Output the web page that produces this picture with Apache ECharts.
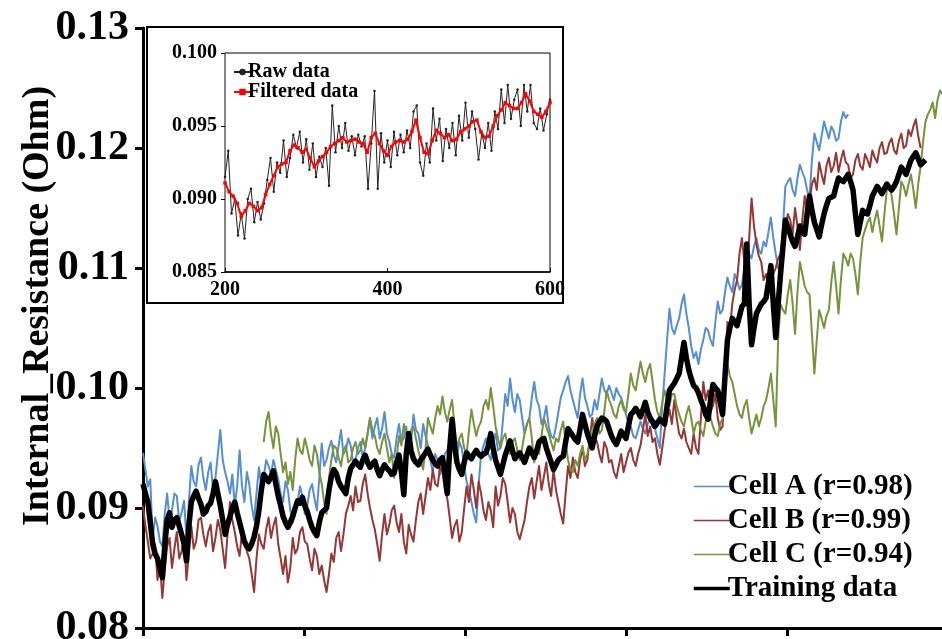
<!DOCTYPE html>
<html><head><meta charset="utf-8">
<script src="https://cdn.jsdelivr.net/npm/echarts@6/dist/echarts.min.js"></script>
<style>html,body{margin:0;padding:0;background:#fff}#c{width:942px;height:639px}</style>
</head><body><div id="c"></div>
<script>
// ---------- main chart data (x = start + i*step) ----------
const mainStep = 3;
const startA = 0, startB = 0, startC = 150, startT = 0;
const yTickLabels = ["0.08","0.09","0.10","0.11","0.12","0.13"];
const insetYTickLabels = ["0.085","0.090","0.095","0.100"];
const xTicks = [0,200,400,600,800,1000];

const cellA = [
.0946,.0932,.0918,.0924,.0875,.0892,.0885,.0872,.0868,.0895,
.0912,.0890,.0898,.0912,.0910,.0889,.0896,.0906,.0875,.0905,
.0935,.0922,.0918,.0936,.0942,.0925,.0915,.0930,.0938,.0915,
.0925,.0945,.0965,.0940,.0930,.0922,.0912,.0928,.0902,.0918,
.0948,.0918,.0905,.0930,.0920,.0902,.0890,.0912,.0934,.0918,
.0926,.0940,.0935,.0928,.0940,.0932,.0924,.0912,.0905,.0922,
.0915,.0898,.0888,.0896,.0905,.0918,.0910,.0895,.0902,.0915,
.0920,.0908,.0898,.0925,.0954,.0935,.0940,.0950,.0956,.0944,
.0938,.0952,.0965,.0945,.0948,.0958,.0952,.0938,.0940,.0950,
.0955,.0942,.0950,.0962,.0975,.0958,.0968,.0975,.0958,.0966,
.0980,.0962,.0955,.0945,.0942,.0958,.0970,.0955,.0958,.0968,
.0946,.0955,.0978,.0965,.0962,.0950,.0970,.0960,.0952,.0940,
.0930,.0945,.0940,.0928,.0935,.0945,.0948,.0938,.0960,.0950,
.0942,.0955,.0950,.0935,.0922,.0915,.0905,.0895,.0888,.0920,
.0945,.0952,.0958,.0945,.0940,.0955,.0962,.0948,.0950,.0972,
.0995,.0985,.1008,.0990,.0980,.0995,.0990,.0975,.0962,.0970,
.0975,.0992,.1005,.0990,.0985,.0970,.0975,.0985,.0968,.0960,
.0958,.0968,.0980,.0992,.0998,.1005,.1010,.0998,.0990,.0982,
.0975,.0995,.1008,.0992,.0985,.0976,.0978,.0990,.0982,.0995,
.1008,.0998,.0995,.1002,.0996,.0990,.1000,.0995,.0992,.0985,
.0978,.0970,.0968,.0960,.0958,.0965,.0972,.0966,.0962,.0970,
.0975,.0968,.0966,.0958,.0950,.0985,.1012,.1040,.1066,.1050,
.1045,.1052,.1058,.1070,.1078,.1062,.1050,.1035,.1025,.1030,
.1020,.1032,.1040,.1050,.1048,.1040,.1035,.1055,.1072,.1062,
.1065,.1080,.1092,.1085,.1080,.1095,.1090,.1082,.1086,.1100,
.1120,.1112,.1108,.1118,.1125,.1115,.1112,.1122,.1118,.1130,
.1142,.1125,.1112,.1100,.1098,.1135,.1168,.1172,.1175,.1165,
.1160,.1175,.1186,.1180,.1175,.1165,.1158,.1190,.1212,.1205,
.1198,.1210,.1222,.1215,.1208,.1218,.1214,.1206,.1208,.1222,
.1230,.1225,.1228
];
const cellB = [
.0902,.0885,.0872,.0858,.0862,.0870,.0840,.0855,.0825,.0848,
.0868,.0875,.0850,.0866,.0880,.0858,.0864,.0876,.0840,.0862,
.0885,.0866,.0872,.0890,.0892,.0878,.0868,.0880,.0886,.0864,
.0875,.0890,.0882,.0866,.0850,.0878,.0905,.0890,.0880,.0868,
.0860,.0880,.0872,.0864,.0858,.0845,.0830,.0858,.0878,.0870,
.0866,.0882,.0892,.0875,.0885,.0892,.0870,.0858,.0845,.0860,
.0838,.0850,.0875,.0862,.0866,.0880,.0884,.0872,.0870,.0858,
.0848,.0866,.0860,.0845,.0852,.0840,.0830,.0845,.0862,.0855,
.0875,.0880,.0864,.0878,.0895,.0902,.0910,.0898,.0918,.0905,
.0906,.0920,.0928,.0912,.0900,.0890,.0882,.0870,.0856,.0878,
.0895,.0878,.0886,.0898,.0902,.0888,.0880,.0895,.0872,.0862,
.0886,.0878,.0872,.0890,.0905,.0912,.0895,.0910,.0925,.0915,
.0932,.0920,.0918,.0934,.0930,.0915,.0908,.0892,.0875,.0885,
.0890,.0872,.0880,.0900,.0918,.0905,.0928,.0915,.0900,.0922,
.0912,.0898,.0890,.0905,.0898,.0884,.0918,.0902,.0910,.0925,
.0920,.0905,.0888,.0900,.0895,.0880,.0874,.0882,.0890,.0905,
.0918,.0925,.0908,.0922,.0935,.0915,.0926,.0938,.0920,.0910,
.0932,.0915,.0905,.0895,.0887,.0912,.0935,.0925,.0942,.0930,
.0925,.0940,.0950,.0935,.0940,.0958,.0975,.0960,.0955,.0945,
.0938,.0955,.0950,.0938,.0940,.0930,.0925,.0935,.0945,.0930,
.0938,.0946,.0950,.0940,.0935,.0945,.0952,.0965,.0978,.0960,
.0968,.0955,.0958,.0945,.0936,.0950,.0965,.0975,.0982,.0970,
.0990,.0975,.0962,.0958,.0966,.0955,.0950,.0945,.0962,.0950,
.0945,.0975,.1005,.0990,.0998,.0980,.0985,.0995,.0975,.0965,
.0968,.1010,.1055,.1048,.1070,.1082,.1090,.1112,.1125,.1105,
.1095,.1125,.1158,.1135,.1120,.1110,.1105,.1090,.1095,.1085,
.1088,.1095,.1100,.1108,.1112,.1125,.1130,.1145,.1140,.1128,
.1150,.1135,.1115,.1140,.1160,.1148,.1155,.1170,.1175,.1165,
.1188,.1178,.1170,.1185,.1192,.1180,.1185,.1196,.1180,.1190,
.1198,.1188,.1186,.1175,.1178,.1190,.1195,.1185,.1182,.1195,
.1190,.1184,.1198,.1192,.1188,.1200,.1205,.1195,.1196,.1204,
.1208,.1198,.1195,.1206,.1212,.1200,.1202,.1215,.1210,.1218,
.1224,.1210,.1200
];
const cellC = [
.0955,.0972,.0980,.0962,.0950,.0968,.0962,.0945,.0930,.0938,
.0920,.0930,.0915,.0940,.0958,.0948,.0945,.0958,.0950,.0940,
.0935,.0952,.0945,.0930,.0920,.0905,.0895,.0925,.0940,.0952,
.0950,.0942,.0935,.0948,.0952,.0938,.0940,.0950,.0955,.0945,
.0948,.0958,.0950,.0962,.0975,.0965,.0960,.0950,.0945,.0955,
.0962,.0950,.0938,.0945,.0925,.0942,.0960,.0952,.0970,.0962,
.0955,.0965,.0968,.0958,.0948,.0940,.0932,.0950,.0975,.0968,
.0962,.0975,.0985,.0978,.0993,.0980,.0972,.0982,.0990,.0968,
.0950,.0958,.0962,.0950,.0945,.0965,.0982,.0970,.0960,.0968,
.0972,.0985,.0990,.0982,.1000,.0985,.0968,.0958,.0950,.0958,
.0962,.0952,.0945,.0955,.0958,.0948,.0940,.0950,.0962,.0970,
.0975,.0958,.0938,.0950,.0945,.0960,.0975,.0968,.0962,.0955,
.0948,.0958,.0955,.0965,.0972,.0955,.0940,.0932,.0930,.0940,
.0935,.0945,.0952,.0940,.0945,.0955,.0962,.0970,.0975,.0962,
.0965,.0980,.0998,.0990,.0985,.0978,.0975,.0985,.0990,.0982,
.0980,.0995,.1012,.1002,.0998,.1010,.1022,.1012,.1005,.1015,
.1020,.1005,.0990,.0980,.0975,.0988,.0998,.0990,.0985,.0995,
.0995,.0985,.0978,.0972,.0968,.0978,.0985,.0975,.0962,.0970,
.0972,.0965,.0960,.0972,.0985,.0975,.0968,.0962,.0960,.0970,
.0975,.0998,.1020,.1010,.1005,.0995,.0985,.0978,.0975,.0985,
.0990,.0975,.0962,.0970,.0978,.0968,.0975,.0985,.0990,.1000,
.1012,.0990,.0968,.1040,.1070,.1065,.1062,.1078,.1090,.1070,
.1045,.1080,.1105,.1095,.1085,.1080,.1078,.1045,.1012,.1040,
.1065,.1058,.1050,.1060,.1065,.1088,.1105,.1085,.1062,.1090,
.1112,.1108,.1102,.1112,.1108,.1095,.1078,.1105,.1125,.1132,
.1138,.1142,.1130,.1140,.1148,.1135,.1122,.1145,.1165,.1168,
.1160,.1145,.1128,.1150,.1172,.1168,.1160,.1170,.1178,.1165,
.1150,.1170,.1185,.1205,.1222,.1228,.1232,.1238,.1225,.1240,
.1248,.1245,.1240
];
const training = [
.0920,.0912,.0905,.0888,.0870,.0862,.0858,.0850,.0842,.0868,
.0890,.0896,.0884,.0890,.0892,.0885,.0878,.0870,.0856,.0885,
.0905,.0910,.0914,.0908,.0903,.0895,.0897,.0902,.0904,.0912,
.0922,.0912,.0902,.0890,.0878,.0886,.0893,.0900,.0905,.0896,
.0888,.0880,.0872,.0868,.0866,.0870,.0876,.0885,.0898,.0915,
.0928,.0925,.0922,.0926,.0931,.0920,.0910,.0902,.0893,.0888,
.0884,.0888,.0893,.0900,.0906,.0904,.0909,.0902,.0897,.0890,
.0884,.0880,.0877,.0888,.0896,.0898,.0900,.0915,.0926,.0932,
.0929,.0922,.0918,.0915,.0912,.0925,.0933,.0936,.0939,.0936,
.0934,.0940,.0944,.0938,.0934,.0937,.0939,.0932,.0927,.0932,
.0936,.0933,.0931,.0928,.0929,.0938,.0944,.0930,.0911,.0945,
.0962,.0948,.0941,.0938,.0936,.0940,.0943,.0946,.0949,.0944,
.0940,.0937,.0935,.0940,.0942,.0930,.0912,.0950,.0974,.0952,
.0938,.0932,.0928,.0938,.0946,.0943,.0941,.0945,.0948,.0945,
.0943,.0945,.0946,.0952,.0962,.0950,.0940,.0934,.0928,.0936,
.0944,.0950,.0956,.0948,.0941,.0944,.0946,.0942,.0938,.0944,
.0950,.0946,.0942,.0948,.0955,.0957,.0958,.0950,.0944,.0938,
.0932,.0936,.0940,.0942,.0943,.0955,.0966,.0963,.0960,.0957,
.0955,.0966,.0978,.0970,.0962,.0956,.0950,.0960,.0968,.0972,
.0975,.0974,.0972,.0966,.0960,.0956,.0953,.0958,.0964,.0961,
.0958,.0968,.0978,.0980,.0983,.0980,.0976,.0982,.0988,.0980,
.0975,.0972,.0968,.0971,.0974,.0972,.0970,.0985,.0998,.1001,
.1004,.1008,.1012,.1025,.1038,.1025,.1015,.1008,.1002,.1000,
.0996,.0990,.0985,.0978,.0974,.0990,.1003,.1000,.0998,.0988,
.0978,.1010,.1040,.1050,.1058,.1055,.1052,.1060,.1068,.1070,
.1120,.1070,.1036,.1050,.1062,.1066,.1070,.1072,.1075,.1088,
.1102,.1070,.1042,.1070,.1095,.1118,.1140,.1134,.1128,.1122,
.1118,.1126,.1135,.1130,.1128,.1145,.1160,.1148,.1138,.1132,
.1126,.1136,.1145,.1152,.1158,.1159,.1160,.1168,.1175,.1173,
.1172,.1175,.1178,.1172,.1165,.1145,.1128,.1138,.1148,.1146,
.1145,.1152,.1160,.1164,.1168,.1165,.1162,.1166,.1170,.1167,
.1165,.1168,.1172,.1178,.1184,.1181,.1178,.1184,.1190,.1193,
.1196,.1191,.1186,.1188,.1190
];

// ---------- inset data ----------
const rawStart = 200, rawStep = 4;
const rawData = [
0.0915,0.0933,0.0890,0.0900,0.0875,0.0890,0.0873,0.0900,0.0907,0.0884,
0.0898,0.0886,0.0897,0.0913,0.0928,0.0905,0.0925,0.0918,0.0940,0.0915,
0.0928,0.0944,0.0935,0.0946,0.0925,0.0941,0.0920,0.0938,0.0915,0.0929,
0.0922,0.0935,0.0909,0.0964,0.0932,0.0950,0.0935,0.0952,0.0933,0.0943,
0.0930,0.0944,0.0936,0.0943,0.0907,0.0938,0.0974,0.0907,0.0945,0.0925,
0.0940,0.0922,0.0946,0.0930,0.0944,0.0932,0.0947,0.0935,0.0960,0.0964,
0.0925,0.0916,0.0938,0.0925,0.0962,0.0940,0.0955,0.0926,0.0948,0.0935,
0.0952,0.0930,0.0957,0.0940,0.0966,0.0942,0.0960,0.0948,0.0927,0.0945,
0.0935,0.0952,0.0933,0.0960,0.0948,0.0975,0.0952,0.0978,0.0955,0.0968,
0.0975,0.0950,0.0978,0.0960,0.0978,0.0952,0.0948,0.0962,0.0947,0.0958,
0.0968
];
const filtStart = 200, filtStep = 5;
const filteredData = [
0.0911,0.0905,0.0902,0.0897,0.0888,0.0892,0.0897,0.0895,0.0892,0.0894,
0.0903,0.0910,0.0916,0.0922,0.0924,0.0925,0.0933,0.0937,0.0935,0.0932,
0.0934,0.0928,0.0922,0.0926,0.0929,0.0932,0.0936,0.0938,0.0940,0.0942,
0.0939,0.0940,0.0941,0.0939,0.0938,0.0932,0.0942,0.0945,0.0938,0.0933,
0.0930,0.0936,0.0939,0.0940,0.0939,0.0941,0.0946,0.0954,0.0942,0.0932,
0.0931,0.0940,0.0947,0.0945,0.0942,0.0944,0.0940,0.0941,0.0946,0.0948,
0.0950,0.0953,0.0954,0.0946,0.0942,0.0943,0.0950,0.0957,0.0961,0.0966,
0.0964,0.0962,0.0962,0.0966,0.0972,0.0967,0.0960,0.0958,0.0956,0.0960,
0.0966
];

function pairs(start, step, arr){ return arr.map((v,i)=>[start+i*step, v]); }

const FONT = "'Liberation Serif','Times New Roman',serif";
const chart = echarts.init(document.getElementById('c'), null, {renderer:'canvas'});

function lineSeries(name, start, arr, color, width, z){
  return {type:'line', name, data:pairs(start, mainStep, arr), xAxisIndex:0, yAxisIndex:0,
    symbol:'none', showSymbol:false, z, lineStyle:{color, width, join:'round'}, itemStyle:{color},
    emphasis:{disabled:true}};
}
const hideSym = {opacity:0};

chart.setOption({
  animation:false,
  backgroundColor:'#fff',
  grid:[
    {left:143, top:28, right:-6, bottom:11, containLabel:false, outerBoundsMode:'none'},
    {left:225, top:53, width:325, height:219, containLabel:false, outerBoundsMode:'none',
     show:true, borderColor:'#000', borderWidth:1, backgroundColor:'transparent'}
  ],
  xAxis:[
    {gridIndex:0, type:'value', min:xTicks[0], max:xTicks[xTicks.length-1], interval:200,
     axisLine:{show:true, onZero:false, lineStyle:{color:'#000', width:3}},
     axisTick:{show:true, length:8, lineStyle:{color:'#000', width:3}},
     axisLabel:{show:false}, splitLine:{show:false}},
    {gridIndex:1, type:'value', min:200, max:600, interval:200,
     axisLine:{show:true, onZero:false, lineStyle:{color:'#000', width:1.5}},
     axisTick:{show:true, inside:true, length:4, lineStyle:{color:'#000', width:1}},
     axisLabel:{color:'#000', fontFamily:FONT, fontWeight:'bold', fontSize:20, margin:8},
     splitLine:{show:false}}
  ],
  yAxis:[
    {gridIndex:0, type:'value', min:0.08, max:0.13, interval:0.01,
     axisLine:{show:true, onZero:false, lineStyle:{color:'#000', width:3}},
     axisTick:{show:true, length:8, lineStyle:{color:'#000', width:3}},
     axisLabel:{color:'#000', fontFamily:FONT, fontWeight:'bold', fontSize:42, margin:14,
       formatter:(v)=>{const i=Math.round((v-0.08)/0.01); return yTickLabels[i]||'';}},
     splitLine:{show:false}},
    {gridIndex:1, type:'value', min:0.085, max:0.100, interval:0.005,
     axisLine:{show:true, onZero:false, lineStyle:{color:'#888', width:1.5}},
     axisTick:{show:true, length:4, lineStyle:{color:'#000', width:1}},
     axisLabel:{color:'#000', fontFamily:FONT, fontWeight:'bold', fontSize:20, margin:8,
       formatter:(v)=>{const i=Math.round((v-0.085)/0.005); return insetYTickLabels[i]||'';}},
     splitLine:{show:false}}
  ],
  legend:[
    {orient:'vertical', left:687, top:467, itemWidth:36, itemHeight:14, itemGap:5,
     textStyle:{color:'#000', fontFamily:FONT, fontWeight:'bold', fontSize:29, padding:[0,0,0,-7]},
     selectedMode:false,
     data:[
       {name:'Cell A (r=0.98)', lineStyle:{width:1.5}, itemStyle:hideSym},
       {name:'Cell B (r=0.99)', lineStyle:{width:1.5}, itemStyle:hideSym},
       {name:'Cell C (r=0.94)', lineStyle:{width:1.5}, itemStyle:hideSym},
       {name:'Training data', lineStyle:{width:3.5}, itemStyle:hideSym}
     ]},
    {orient:'vertical', left:228, top:57, itemWidth:17, itemHeight:8, itemGap:0,
     textStyle:{color:'#000', fontFamily:FONT, fontWeight:'bold', fontSize:20, lineHeight:20, padding:[0,0,0,-8]},
     selectedMode:false,
     data:['Raw data','Filtered data']}
  ],
  graphic:[
    {type:'rect', z:1, shape:{x:147, y:27, width:416, height:276}, style:{fill:'none', stroke:'#000', lineWidth:2}},
    {type:'text', x:38, y:306, rotation:Math.PI/2,
     style:{text:'Internal_Resistance (Ohm)', font:"bold 38px 'Liberation Serif'", fill:'#000', align:'center', verticalAlign:'middle'}}
  ],
  series:[
    lineSeries('Cell A (r=0.98)', startA, cellA, '#558ED5', 2, 2),
    lineSeries('Cell B (r=0.99)', startB, cellB, '#953735', 2, 3),
    lineSeries('Cell C (r=0.94)', startC, cellC, '#77933C', 2, 4),
    lineSeries('Training data', startT, training, '#000000', 5.5, 5),
    {type:'line', name:'Raw data', xAxisIndex:1, yAxisIndex:1, data:pairs(rawStart, rawStep, rawData),
     symbol:'circle', symbolSize:2.5, showSymbol:true, lineStyle:{color:'#222', width:1}, itemStyle:{color:'#222'}, z:6},
    {type:'line', name:'Filtered data', xAxisIndex:1, yAxisIndex:1, data:pairs(filtStart, filtStep, filteredData),
     symbol:'rect', symbolSize:3.5, showSymbol:true, lineStyle:{color:'#FF0000', width:2}, itemStyle:{color:'#FF0000'}, z:7}
  ]
});
</script></body></html>
